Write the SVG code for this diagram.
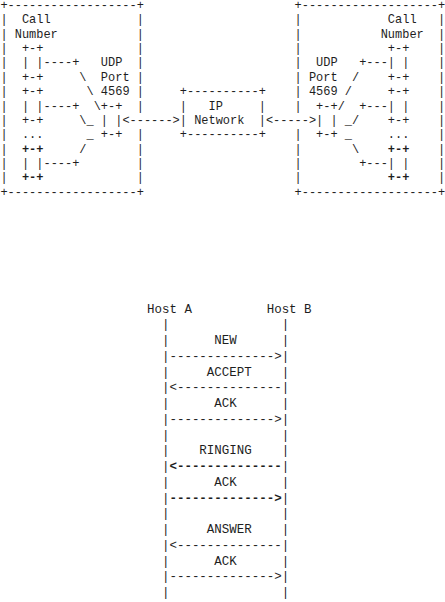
<svg xmlns="http://www.w3.org/2000/svg" width="445" height="602" viewBox="0 0 445 602" xml:space="preserve">
<style>
text { font-family: "Liberation Mono", "DejaVu Sans Mono", monospace; white-space: pre; fill: #1e1e1e; }
.t { font-size: 11.96px; }
.s { font-size: 12.47px; }
.b { font-weight: bold; }
</style>
<rect width="445" height="602" fill="#ffffff"/>

<g id="call-box-a" class="t">
  <text x="0.41" y="9">+------------------+</text>
  <text x="0.41" y="195.68">+------------------+</text>
  <text><tspan x="0.41" y="23.36">|</tspan><tspan x="0.41" y="37.72">|</tspan><tspan x="0.41" y="52.08">|</tspan><tspan x="0.41" y="66.44">|</tspan><tspan x="0.41" y="80.8">|</tspan><tspan x="0.41" y="95.16">|</tspan><tspan x="0.41" y="109.52">|</tspan><tspan x="0.41" y="123.88">|</tspan><tspan x="0.41" y="138.24">|</tspan><tspan x="0.41" y="152.6">|</tspan><tspan x="0.41" y="166.96">|</tspan><tspan x="0.41" y="181.32">|</tspan></text>
  <text><tspan x="136.74" y="23.36">|</tspan><tspan x="136.74" y="37.72">|</tspan><tspan x="136.74" y="52.08">|</tspan><tspan x="136.74" y="66.44">|</tspan><tspan x="136.74" y="80.8">|</tspan><tspan x="136.74" y="95.16">|</tspan><tspan x="136.74" y="109.52">|</tspan><tspan x="136.74" y="138.24">|</tspan><tspan x="136.74" y="152.6">|</tspan><tspan x="136.74" y="166.96">|</tspan><tspan x="136.74" y="181.32">|</tspan></text>
  <text x="21.94" y="23.36">Call</text>
  <text x="14.76" y="37.72">Number</text>
  <text><tspan x="21.94" y="52.08">+-+</tspan><tspan x="21.94" y="66.44">| |</tspan><tspan x="21.94" y="80.8">+-+</tspan><tspan x="21.94" y="95.16">+-+</tspan><tspan x="21.94" y="109.52">| |</tspan><tspan x="21.94" y="123.88">+-+</tspan><tspan x="21.94" y="138.24">...</tspan><tspan x="21.94" y="152.6" class="b">+-+</tspan><tspan x="21.94" y="166.96">| |</tspan><tspan x="21.94" y="181.32" class="b">+-+</tspan></text>
  <text><tspan x="100.86" y="66.44">UDP</tspan><tspan x="100.86" y="80.8">Port</tspan><tspan x="100.86" y="95.16">4569</tspan><tspan x="100.86" y="109.52">+-+</tspan><tspan x="100.86" y="123.88">| |</tspan><tspan x="100.86" y="138.24">+-+</tspan></text>
</g>

<g id="ip-network" class="t">
  <text x="179.79" y="95.16">+----------+</text>
  <text><tspan x="179.79" y="109.52">|</tspan><tspan x="208.49" y="109.52">IP</tspan><tspan x="258.71" y="109.52">|</tspan></text>
  <text><tspan x="179.79" y="123.88">|</tspan><tspan x="194.14" y="123.88">Network</tspan><tspan x="258.71" y="123.88">|</tspan></text>
  <text x="179.79" y="138.24">+----------+</text>
</g>

<g id="call-box-b" class="t">
  <text x="294.59" y="9">+-------------------+</text>
  <text x="294.59" y="195.68">+-------------------+</text>
  <text><tspan x="294.59" y="23.36">|</tspan><tspan x="294.59" y="37.72">|</tspan><tspan x="294.59" y="52.08">|</tspan><tspan x="294.59" y="66.44">|</tspan><tspan x="294.59" y="80.8">|</tspan><tspan x="294.59" y="95.16">|</tspan><tspan x="294.59" y="109.52">|</tspan><tspan x="294.59" y="138.24">|</tspan><tspan x="294.59" y="152.6">|</tspan><tspan x="294.59" y="166.96">|</tspan><tspan x="294.59" y="181.32">|</tspan></text>
  <text><tspan x="438.09" y="23.36">|</tspan><tspan x="438.09" y="37.72">|</tspan><tspan x="438.09" y="52.08">|</tspan><tspan x="438.09" y="66.44">|</tspan><tspan x="438.09" y="80.8">|</tspan><tspan x="438.09" y="95.16">|</tspan><tspan x="438.09" y="109.52">|</tspan><tspan x="438.09" y="123.88">|</tspan><tspan x="438.09" y="138.24">|</tspan><tspan x="438.09" y="152.6">|</tspan><tspan x="438.09" y="166.96">|</tspan><tspan x="438.09" y="181.32">|</tspan></text>
  <text x="387.86" y="23.36">Call</text>
  <text x="380.69" y="37.72">Number</text>
  <text><tspan x="387.86" y="52.08">+-+</tspan><tspan x="387.86" y="66.44">| |</tspan><tspan x="387.86" y="80.8">+-+</tspan><tspan x="387.86" y="95.16">+-+</tspan><tspan x="387.86" y="109.52">| |</tspan><tspan x="387.86" y="123.88">+-+</tspan><tspan x="387.86" y="138.24">...</tspan><tspan x="387.86" y="152.6" class="b">+-+</tspan><tspan x="387.86" y="166.96">| |</tspan><tspan x="387.86" y="181.32" class="b">+-+</tspan></text>
  <text><tspan x="316.11" y="66.44">UDP</tspan><tspan x="308.94" y="80.8">Port</tspan><tspan x="308.94" y="95.16">4569</tspan><tspan x="316.11" y="109.52">+-+</tspan><tspan x="316.11" y="123.88">| |</tspan><tspan x="316.11" y="138.24">+-+</tspan></text>
</g>

<g id="connectors" class="t">
  <text><tspan x="43.46" y="66.44">----+</tspan><tspan x="79.34" y="80.8">\</tspan><tspan x="86.51" y="95.16">\</tspan><tspan x="43.46" y="109.52">----+</tspan><tspan x="93.69" y="109.52">\</tspan><tspan x="79.34" y="123.88">\</tspan><tspan x="86.51" y="123.88" class="b">_</tspan><tspan x="86.51" y="138.24">_</tspan><tspan x="79.34" y="152.6">/</tspan><tspan x="43.46" y="166.96">----+</tspan></text>
  <text><tspan x="359.16" y="66.44">+---</tspan><tspan x="351.99" y="80.8">/</tspan><tspan x="344.81" y="95.16">/</tspan><tspan x="337.64" y="109.52">/</tspan><tspan x="359.16" y="109.52">+---</tspan><tspan x="344.81" y="123.88" class="b">_</tspan><tspan x="351.99" y="123.88">/</tspan><tspan x="344.81" y="138.24">_</tspan><tspan x="351.99" y="152.6">\</tspan><tspan x="359.16" y="166.96">+---</tspan></text>
  <text x="122.39" y="123.88">&lt;------&gt;</text>
  <text x="265.89" y="123.88">&lt;-----&gt;</text>
</g>

<g id="host-a" class="s">
  <text x="147" y="312.5">Host A</text>
  <text><tspan x="161.96" y="328.25">|</tspan><tspan x="161.96" y="344">|</tspan><tspan x="161.96" y="359.75">|</tspan><tspan x="161.96" y="375.5">|</tspan><tspan x="161.96" y="391.25">|</tspan><tspan x="161.96" y="407">|</tspan><tspan x="161.96" y="422.75">|</tspan><tspan x="161.96" y="438.5">|</tspan><tspan x="161.96" y="454.25">|</tspan><tspan x="161.96" y="470">|</tspan><tspan x="161.96" y="485.75">|</tspan><tspan x="161.96" y="501.5">|</tspan><tspan x="161.96" y="517.25">|</tspan><tspan x="161.96" y="533">|</tspan><tspan x="161.96" y="548.75">|</tspan><tspan x="161.96" y="564.5">|</tspan><tspan x="161.96" y="580.25">|</tspan><tspan x="161.96" y="596">|</tspan></text>
</g>

<g id="host-b" class="s">
  <text x="266.68" y="312.5">Host B</text>
  <text><tspan x="281.64" y="328.25">|</tspan><tspan x="281.64" y="344">|</tspan><tspan x="281.64" y="359.75">|</tspan><tspan x="281.64" y="375.5">|</tspan><tspan x="281.64" y="391.25">|</tspan><tspan x="281.64" y="407">|</tspan><tspan x="281.64" y="422.75">|</tspan><tspan x="281.64" y="438.5">|</tspan><tspan x="281.64" y="454.25">|</tspan><tspan x="281.64" y="470">|</tspan><tspan x="281.64" y="485.75">|</tspan><tspan x="281.64" y="501.5">|</tspan><tspan x="281.64" y="517.25">|</tspan><tspan x="281.64" y="533">|</tspan><tspan x="281.64" y="548.75">|</tspan><tspan x="281.64" y="564.5">|</tspan><tspan x="281.64" y="580.25">|</tspan><tspan x="281.64" y="596">|</tspan></text>
</g>

<g id="messages" class="s">
  <text x="214.32" y="344">NEW</text>
  <text x="169.44" y="359.75">--------------&gt;</text>
  <text x="206.84" y="375.5">ACCEPT</text>
  <text x="169.44" y="391.25">&lt;--------------</text>
  <text x="214.32" y="407">ACK</text>
  <text x="169.44" y="422.75">--------------&gt;</text>
  <text x="199.36" y="454.25">RINGING</text>
  <text x="169.44" y="470" class="b">&lt;--------------</text>
  <text x="214.32" y="485.75">ACK</text>
  <text x="169.44" y="501.5" class="b">--------------&gt;</text>
  <text x="206.84" y="533">ANSWER</text>
  <text x="169.44" y="548.75">&lt;--------------</text>
  <text x="214.32" y="564.5">ACK</text>
  <text x="169.44" y="580.25">--------------&gt;</text>
</g>
</svg>
